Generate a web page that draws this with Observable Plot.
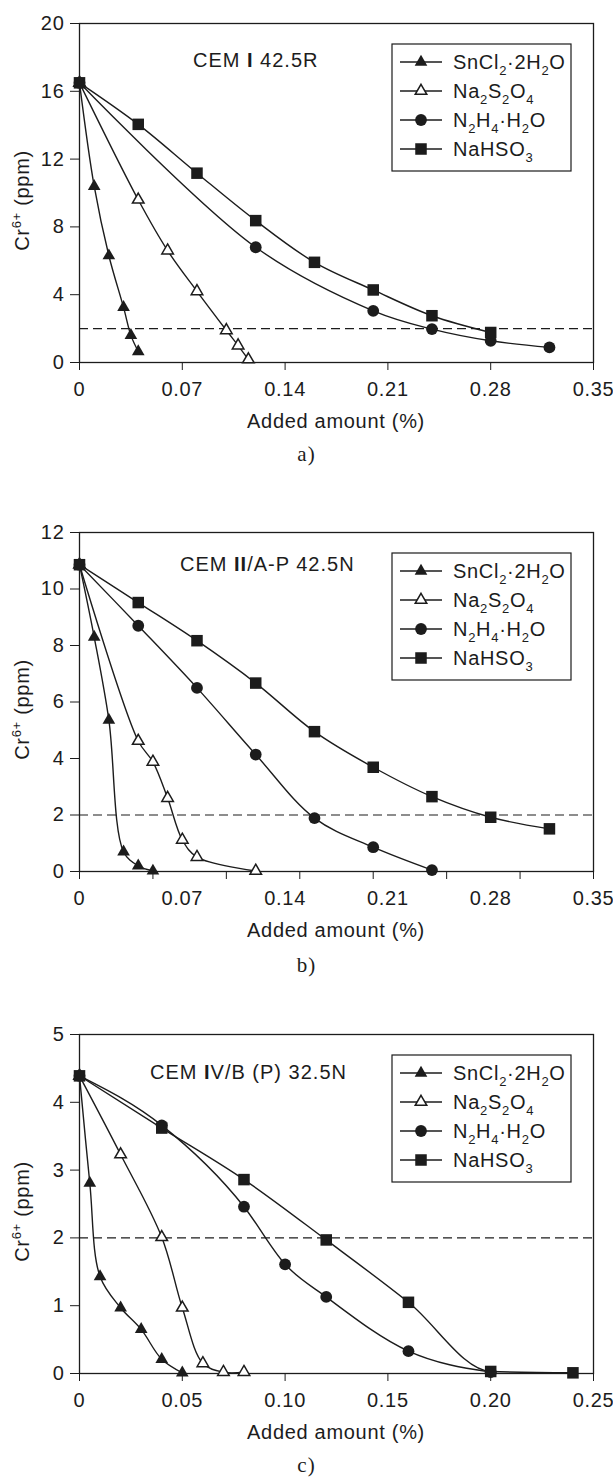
<!DOCTYPE html>
<html><head><meta charset="utf-8">
<script src="https://cdn.jsdelivr.net/npm/d3@7"></script>
<script src="https://cdn.jsdelivr.net/npm/@observablehq/plot@0.6"></script>
<style>
body{margin:0;background:#fff;}
#wrap{position:relative;width:613px;height:1479px;overflow:hidden;}
.panel{position:absolute;left:0;}
.cap{position:absolute;left:0;width:613px;text-align:center;font-family:"Liberation Serif","Times New Roman",serif;font-size:21px;line-height:21px;letter-spacing:1px;color:#1c1c1c;}
svg text{letter-spacing:0.7px;}
</style></head><body><div id="wrap"></div>
<script>
// ---------- data ----------
const seriesNames = ["SnCl2·2H2O", "Na2S2O4", "N2H4·H2O", "NaHSO3"];

// a) CEM I 42.5R
const aSnX = [0, 0.01, 0.02, 0.03, 0.035, 0.04];
const aSnY = [16.5, 10.4, 6.3, 3.25, 1.6, 0.65];
const aNaX = [0, 0.04, 0.06, 0.08, 0.1, 0.108, 0.115];
const aNaY = [16.5, 9.6, 6.6, 4.2, 1.9, 1.0, 0.18];
const aN2X = [0, 0.12, 0.2, 0.24, 0.28, 0.32];
const aN2Y = [16.5, 6.8, 3.05, 1.97, 1.28, 0.89];
const aHsX = [0, 0.04, 0.08, 0.12, 0.16, 0.2, 0.24, 0.28];
const aHsY = [16.5, 14.05, 11.17, 8.37, 5.91, 4.28, 2.76, 1.77];

// b) CEM II/A-P 42.5N
const bSnX = [0, 0.01, 0.02, 0.03, 0.04, 0.05];
const bSnY = [10.86, 8.3, 5.36, 0.7, 0.2, 0.02];
const bNaX = [0, 0.04, 0.05, 0.06, 0.07, 0.08, 0.12];
const bNaY = [10.86, 4.62, 3.88, 2.6, 1.12, 0.51, 0.02];
const bN2X = [0, 0.04, 0.08, 0.12, 0.16, 0.2, 0.24];
const bN2Y = [10.86, 8.7, 6.5, 4.14, 1.89, 0.86, 0.05];
const bHsX = [0, 0.04, 0.08, 0.12, 0.16, 0.2, 0.24, 0.28, 0.32];
const bHsY = [10.86, 9.52, 8.17, 6.67, 4.95, 3.69, 2.65, 1.92, 1.51];

// c) CEM IV/B (P) 32.5N
const cSnX = [0, 0.005, 0.01, 0.02, 0.03, 0.04, 0.05];
const cSnY = [4.39, 2.81, 1.43, 0.97, 0.65, 0.21, 0.01];
const cNaX = [0, 0.02, 0.04, 0.05, 0.06, 0.07, 0.08];
const cNaY = [4.39, 3.23, 2.01, 0.97, 0.15, 0.02, 0.02];
const cN2X = [0, 0.04, 0.08, 0.1, 0.12, 0.16, 0.2];
const cN2Y = [4.39, 3.66, 2.46, 1.61, 1.13, 0.33, 0.02];
const cHsX = [0, 0.04, 0.08, 0.12, 0.16, 0.2, 0.24];
const cHsY = [4.39, 3.62, 2.86, 1.97, 1.05, 0.03, 0.01];

// ticks
const xLabelsAB = [0, 0.07, 0.14, 0.21, 0.28, 0.35];
const xMarksB = [0, 0.05, 0.1, 0.15, 0.2, 0.25, 0.3, 0.35];
const xLabelsC = [0, 0.05, 0.1, 0.15, 0.2, 0.25];
const yTicksA = [0, 4, 8, 12, 16, 20];
const yTicksB = [0, 2, 4, 6, 8, 10, 12];
const yTicksC = [0, 1, 2, 3, 4, 5];
const limitLine = [2];
const panelTitles = [
  [["CEM ", 0], ["I", 1], [" 42.5R", 0]],
  [["CEM ", 0], ["II", 1], ["/A-P 42.5N", 0]],
  [["CEM ", 0], ["I", 1], ["V/B (P) 32.5N", 0]]
];
const captions = ["a)", "b)", "c)"];
const xTitle = "Added amount (%)";

// ---------- drawing ----------
const ink = "#1c1c1c";
const W = 613, ML = 79, MR = 20, MT = 20, PH = 339, MB = 80;
const symbols = [
  {symbol: "triangle", r: 4.7, fill: ink, stroke: "none", sw: 0},
  {symbol: "triangle", r: 4.3, fill: "white", stroke: ink, sw: 1.5},
  {symbol: "circle", r: 5.9, fill: ink, stroke: "none", sw: 0},
  {symbol: "square", r: 6.5, fill: ink, stroke: "none", sw: 0}
];
const d3sym = {triangle: d3.symbolTriangle, circle: d3.symbolCircle, square: d3.symbolSquare};
const legendParts = [
  [["SnCl", 0], ["2", 1], ["·2H", 0], ["2", 1], ["O", 0]],
  [["Na", 0], ["2", 1], ["S", 0], ["2", 1], ["O", 0], ["4", 1]],
  [["N", 0], ["2", 1], ["H", 0], ["4", 1], ["·H", 0], ["2", 1], ["O", 0]],
  [["NaHSO", 0], ["3", 1]]
];
const fmtX = d => d === 0 ? "0" : d.toFixed(2);

function rows(series) {
  const out = [];
  series.forEach((s, i) => s.x.forEach((x, j) => out.push({s: i, name: seriesNames[i], x, y: s.y[j]})));
  return out;
}

function drawPanel(cfg) {
  const data = rows(cfg.series);
  const marks = [
    Plot.ruleY(limitLine, {stroke: ink, strokeWidth: 1.2, strokeDasharray: "9,5"})
  ];
  cfg.series.forEach((s, i) => {
    marks.push(Plot.line(data.filter(d => d.s === i), {x: "x", y: "y", curve: (cfg.curves && cfg.curves[i]) || "catmull-rom", stroke: ink, strokeWidth: 1.4}));
  });
  marks.push(
    Plot.frame({stroke: ink, strokeWidth: 1.3}),
    Plot.axisY({ticks: cfg.yTicks, tickSize: 9, tickPadding: 6, tickFormat: d => String(d), label: null}),
    Plot.axisX({ticks: cfg.xLabels, tickSize: cfg.xMarks ? 0 : 8, tickPadding: cfg.xMarks ? 19 : 11, tickFormat: fmtX, label: null})
  );
  if (cfg.xMarks) marks.push(Plot.axisX({ticks: cfg.xMarks, tickSize: 8, tickFormat: () => "", label: null}));
  symbols.forEach((sy, i) => {
    marks.push(Plot.dot(data.filter(d => d.s === i), {x: "x", y: "y", symbol: sy.symbol, r: sy.r, fill: sy.fill, stroke: sy.stroke, strokeWidth: sy.sw}));
  });
  const svgNode = Plot.plot({
    width: W, height: MT + PH + MB,
    marginLeft: ML, marginRight: MR, marginTop: MT, marginBottom: MB,
    x: {domain: cfg.xDomain},
    y: {domain: cfg.yDomain},
    style: {fontFamily: "'Liberation Sans', Arial, sans-serif", fontSize: "20px", color: ink, background: "white", overflow: "visible"},
    marks
  });
  const svg = d3.select(svgNode);
  // x title
  svg.append("text").attr("x", (ML + W - MR) / 2).attr("y", MT + PH + 65.5)
    .attr("text-anchor", "middle").attr("font-size", 20).attr("fill", ink).text(xTitle);
  // y title
  const yt = svg.append("text").attr("transform", `translate(29,${MT + PH / 2 + 8}) rotate(-90)`)
    .attr("text-anchor", "middle").attr("font-size", 20).attr("fill", ink);
  yt.append("tspan").text("Cr");
  yt.append("tspan").attr("font-size", 13).attr("dy", -8).text("6+");
  yt.append("tspan").attr("dy", 8).text(" (ppm)");
  // panel annotation
  const at = svg.append("text").attr("x", cfg.annX).attr("y", MT + cfg.annY).attr("text-anchor", "start")
    .attr("font-size", 20).attr("fill", ink).style("letter-spacing", "1px");
  cfg.title.forEach(([t, b]) => at.append("tspan").attr("font-weight", b ? "bold" : null).text(t));
  // legend
  const g = svg.append("g").attr("transform", `translate(392,${MT + 21})`);
  g.append("rect").attr("width", 179).attr("height", 127).attr("fill", "white").attr("stroke", ink).attr("stroke-width", 1.2);
  seriesNames.forEach((n, i) => {
    const cy = 18 + i * 29;
    g.append("line").attr("x1", 8).attr("x2", 50).attr("y1", cy).attr("y2", cy).attr("stroke", ink).attr("stroke-width", 1.4);
    const sy = symbols[i];
    g.append("path").attr("transform", `translate(29,${cy})`)
      .attr("d", d3.symbol(d3sym[sy.symbol], Math.PI * sy.r * sy.r)())
      .attr("fill", sy.fill).attr("stroke", sy.stroke).attr("stroke-width", sy.sw);
    const t = g.append("text").attr("x", 61).attr("y", cy + 7).attr("text-anchor", "start").attr("font-size", 20).attr("fill", ink);
    let low = false;
    legendParts[i].forEach(([p, sub]) => {
      const ts = t.append("tspan").text(p);
      if (sub && !low) { ts.attr("dy", 6).attr("font-size", 13); low = true; }
      else if (sub) { ts.attr("font-size", 13); }
      else if (low) { ts.attr("dy", -6); low = false; }
    });
  });
  return svgNode;
}

const panels = [
  {top: 3, xDomain: [0, 0.35], yDomain: [0, 20], xLabels: xLabelsAB, xMarks: null, yTicks: yTicksA,
   series: [{x: aSnX, y: aSnY}, {x: aNaX, y: aNaY}, {x: aN2X, y: aN2Y}, {x: aHsX, y: aHsY}],
   title: panelTitles[0], annX: 193, annY: 44, capTop: 444},
  {top: 512, xDomain: [0, 0.35], yDomain: [0, 12], xLabels: xLabelsAB, xMarks: xMarksB, yTicks: yTicksB,
   series: [{x: bSnX, y: bSnY}, {x: bNaX, y: bNaY}, {x: bN2X, y: bN2Y}, {x: bHsX, y: bHsY}],
   title: panelTitles[1], annX: 180, annY: 38.5, capTop: 955},
  {top: 1014, xDomain: [0, 0.25], yDomain: [0, 5], xLabels: xLabelsC, xMarks: null, yTicks: yTicksC,
   series: [{x: cSnX, y: cSnY}, {x: cNaX, y: cNaY}, {x: cN2X, y: cN2Y}, {x: cHsX, y: cHsY}],
   curves: [null, null, "monotone-x", "monotone-x"],
   title: panelTitles[2], annX: 150, annY: 44.5, capTop: 1455}
];

const wrap = document.getElementById("wrap");
panels.forEach((p, i) => {
  const div = document.createElement("div");
  div.className = "panel";
  div.style.top = p.top + "px";
  div.appendChild(drawPanel(p));
  wrap.appendChild(div);
  const cap = document.createElement("div");
  cap.className = "cap";
  cap.style.top = p.capTop + "px";
  cap.textContent = captions[i];
  wrap.appendChild(cap);
});
</script>
</body></html>
